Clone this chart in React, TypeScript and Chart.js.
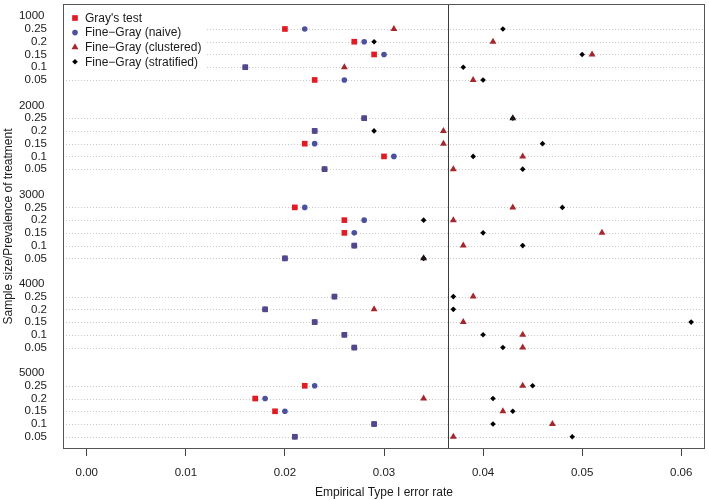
import React, { useEffect, useRef } from 'react'
import { Chart, registerables } from 'chart.js'
import { drawPoint } from 'chart.js/helpers'

Chart.register(...registerables)

const sampleSizes = ['1000', '2000', '3000', '4000', '5000']
const prevalences = ['0.25', '0.2', '0.15', '0.1', '0.05']
const xTicks = [0, 0.01, 0.02, 0.03, 0.04, 0.05, 0.06]
const refLine = 0.0365

// one value per row: for each sample size, prevalence 0.25 -> 0.05
const grayTest = [
  0.02, 0.027, 0.029, 0.016, 0.023,
  0.028, 0.023, 0.022, 0.03, 0.024,
  0.021, 0.026, 0.026, 0.027, 0.02,
  0.025, 0.018, 0.023, 0.026, 0.027,
  0.022, 0.017, 0.019, 0.029, 0.021,
]
const fgNaive = [
  0.022, 0.028, 0.03, 0.016, 0.026,
  0.028, 0.023, 0.023, 0.031, 0.024,
  0.022, 0.028, 0.027, 0.027, 0.02,
  0.025, 0.018, 0.023, 0.026, 0.027,
  0.023, 0.018, 0.02, 0.029, 0.021,
]
const fgClustered = [
  0.031, 0.041, 0.051, 0.026, 0.039,
  0.043, 0.036, 0.036, 0.044, 0.037,
  0.043, 0.037, 0.052, 0.038, 0.034,
  0.039, 0.029, 0.038, 0.044, 0.044,
  0.044, 0.034, 0.042, 0.047, 0.037,
]
const fgStratified = [
  0.042, 0.029, 0.05, 0.038, 0.04,
  0.043, 0.029, 0.046, 0.039, 0.044,
  0.048, 0.034, 0.04, 0.044, 0.034,
  0.037, 0.037, 0.061, 0.04, 0.042,
  0.045, 0.041, 0.043, 0.041, 0.049,
]

const FONT = '"Liberation Sans", Arial, sans-serif'
const RED = '#e01b23'
const BLUE = '#4b519d'
const PURPLE = '#53468a'
const DARKRED = '#a5272c'

// group header on its own row, then 5 prevalence rows, then a blank row
const rowOf = (i: number) => Math.floor(i / 5) * 7 + 1 + (i % 5)
const dataRows = grayTest.map((_, i) => rowOf(i))
const toPoints = (vals: number[]) => vals.map((v, i) => ({ x: v, y: rowOf(i) }))

const legendItems = [
  { text: "Gray's test", style: 'rect', radius: 4, color: RED },
  { text: 'Fine\u2212Gray (naive)', style: 'circle', radius: 2.8, color: BLUE },
  { text: 'Fine\u2212Gray (clustered)', style: 'triangle', radius: 4, color: DARKRED },
  { text: 'Fine\u2212Gray (stratified)', style: 'rectRot', radius: 2.8, color: '#000' },
]

const framePlugin = {
  id: 'frame',
  beforeDatasetsDraw(chart: any) {
    const { ctx, chartArea: a, scales } = chart
    ctx.save()
    ctx.strokeStyle = '#c9c9c9'
    ctx.lineWidth = 1
    ctx.setLineDash([1, 2])
    dataRows.forEach((r) => {
      const py = Math.round(scales.y.getPixelForValue(r)) + 0.5
      ctx.beginPath()
      ctx.moveTo(a.left, py)
      ctx.lineTo(a.right, py)
      ctx.stroke()
    })
    ctx.setLineDash([])
    ctx.fillStyle = '#fff'
    ctx.fillRect(a.left + 1, a.top + 1, 142, 68)
    const px = Math.round(scales.x.getPixelForValue(refLine)) + 0.5
    ctx.strokeStyle = '#3c3c3c'
    ctx.beginPath()
    ctx.moveTo(px, a.top)
    ctx.lineTo(px, a.bottom)
    ctx.stroke()
    ctx.restore()
  },
  afterDraw(chart: any) {
    const { ctx, chartArea: a, scales } = chart
    ctx.save()
    ctx.strokeStyle = '#555'
    ctx.lineWidth = 1
    ctx.strokeRect(a.left + 0.5, a.top + 0.5, a.right - a.left - 1, a.bottom - a.top - 1)

    ctx.fillStyle = '#1a1a1a'
    ctx.font = `11.5px ${FONT}`
    ctx.textAlign = 'right'
    ctx.textBaseline = 'middle'
    sampleSizes.forEach((s, g) => {
      ctx.fillText(s, a.left - 18.5, scales.y.getPixelForValue(g * 7))
    })

    ctx.textAlign = 'left'
    ctx.font = `12px ${FONT}`
    legendItems.forEach((it, i) => {
      const ly = a.top + 14 + i * 14.6
      ctx.fillStyle = it.color
      drawPoint(ctx, { pointStyle: it.style, radius: it.radius, rotation: 0, borderWidth: 0 } as any, a.left + 12, ly)
      ctx.fillStyle = '#1a1a1a'
      ctx.fillText(it.text, a.left + 22, ly + 0.5)
    })
    ctx.restore()
  },
}

export default function App() {
  const canvasRef = useRef<HTMLCanvasElement>(null)

  useEffect(() => {
    document.body.style.margin = '0'
    if (!canvasRef.current) return
    const chart = new Chart(canvasRef.current, {
      type: 'scatter',
      data: {
        datasets: [
          {
            label: "Gray's test",
            data: toPoints(grayTest),
            pointStyle: 'rect',
            pointRadius: 4,
            pointBorderWidth: 0,
            backgroundColor: (c: any) =>
              grayTest[c.dataIndex] === fgNaive[c.dataIndex] ? PURPLE : RED,
          },
          {
            label: 'Fine-Gray (naive)',
            data: toPoints(fgNaive),
            pointStyle: 'circle',
            pointRadius: 2.8,
            pointBorderWidth: 0,
            backgroundColor: BLUE,
          },
          {
            label: 'Fine-Gray (clustered)',
            data: toPoints(fgClustered),
            pointStyle: 'triangle',
            pointRadius: 4,
            pointBorderWidth: 0,
            backgroundColor: (c: any) =>
              fgClustered[c.dataIndex] === fgStratified[c.dataIndex] ? '#1e1414' : DARKRED,
          },
          {
            label: 'Fine-Gray (stratified)',
            data: toPoints(fgStratified),
            pointStyle: 'rectRot',
            pointRadius: 2.8,
            pointBorderWidth: 0,
            backgroundColor: '#000',
          },
        ],
      },
      options: {
        animation: false,
        responsive: true,
        maintainAspectRatio: false,
        layout: { padding: { top: 3, right: 2, left: 0, bottom: 0 } },
        plugins: { legend: { display: false }, tooltip: { enabled: false } },
        scales: {
          x: {
            type: 'linear',
            min: -0.0024,
            max: 0.0624,
            afterBuildTicks: (s: any) => {
              s.ticks = xTicks.map((v) => ({ value: v }))
            },
            afterFit: (s: any) => {
              s.height = 51
              s.paddingLeft = 0
              s.paddingRight = 0
            },
            border: { display: false },
            grid: { drawOnChartArea: false, drawTicks: true, tickLength: 7, color: '#444' },
            ticks: {
              padding: 10,
              color: '#1a1a1a',
              font: { family: FONT, size: 11.5 },
              callback: (v: any) => Number(v).toFixed(2),
            },
            title: {
              display: true,
              text: 'Empirical Type I error rate',
              color: '#1a1a1a',
              font: { family: FONT, size: 12 },
              padding: { top: 0, bottom: 0 },
            },
          },
          y: {
            type: 'linear',
            reverse: true,
            min: -0.96,
            max: 33.96,
            afterBuildTicks: (s: any) => {
              s.ticks = dataRows.map((v) => ({ value: v }))
            },
            afterFit: (s: any) => {
              s.width = 63
              s.paddingTop = 0
              s.paddingBottom = 0
            },
            border: { display: false },
            grid: { display: false },
            ticks: {
              padding: 8,
              color: '#1a1a1a',
              font: { family: FONT, size: 11.5 },
              callback: (v: any) => prevalences[(Number(v) % 7) - 1] ?? '',
            },
            title: {
              display: true,
              text: 'Sample size/Prevalence of treatment',
              color: '#1a1a1a',
              font: { family: FONT, size: 12 },
              padding: { top: 1, bottom: 0 },
            },
          },
        },
      },
      plugins: [framePlugin],
    } as any)
    return () => chart.destroy()
  }, [])

  return (
    <div style={{ position: 'relative', width: 709, height: 500 }}>
      <canvas ref={canvasRef} />
    </div>
  )
}
